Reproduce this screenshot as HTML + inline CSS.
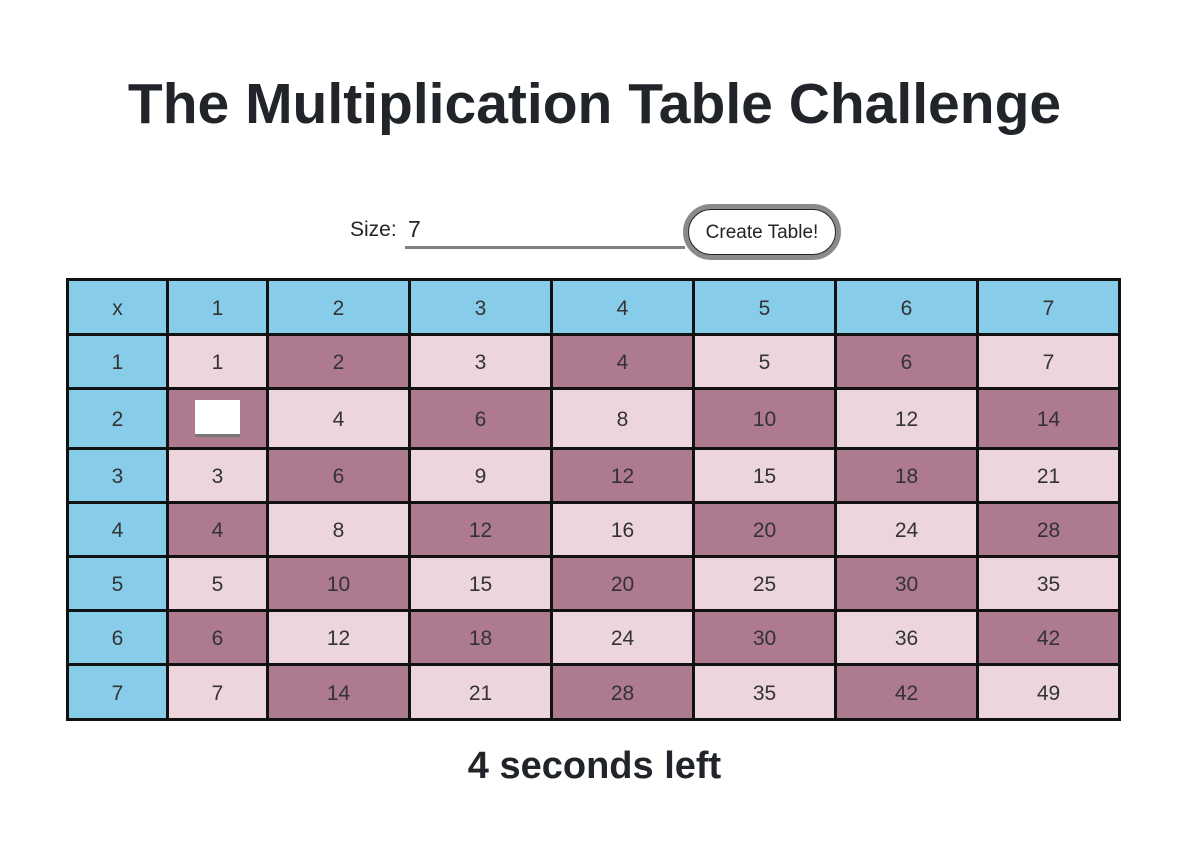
<!DOCTYPE html>
<html><head><meta charset="utf-8"><style>
body{margin:0;width:1189px;height:847px;background:#fff;font-family:"Liberation Sans",sans-serif;color:#212529;position:relative;overflow:hidden}
h1{position:absolute;left:0;width:1189px;top:66px;margin:0;text-align:center;font-size:57px;font-weight:bold;line-height:76px}
.c{position:absolute;box-sizing:border-box;border:3px solid #111;display:flex;align-items:center;justify-content:center;font-size:21px;color:#333;padding-top:3px}
</style></head><body>
<h1>The Multiplication Table Challenge</h1>
<div style="position:absolute;left:350px;top:218px;font-size:21px">Size:</div>
<div style="position:absolute;left:405px;top:213px;width:277px;height:33px;border-bottom:3px solid #808080;font-size:23px;line-height:33px;padding-left:3px;box-sizing:content-box">7</div>
<div style="position:absolute;left:683px;top:204px;width:158px;height:56px;box-sizing:border-box;border:5px solid #8a8a8a;border-radius:28px;display:flex;align-items:center;justify-content:center"><div style="border:1px solid #222;border-radius:24px;width:100%;height:100%;box-sizing:border-box;display:flex;align-items:center;justify-content:center;font-size:19px;padding-top:2px">Create Table!</div></div>
<div id="grid"></div>
<div style="position:absolute;left:0;width:1189px;top:745px;text-align:center;font-size:38px;font-weight:bold">4 seconds left</div>
<script>
const size=7;
const xs=[67,167,267,409,551,693,835,977,1119];
const ys=[279,334,388,448,502,556,610,664,719];
const g=document.getElementById('grid');
for(let r=0;r<=size;r++)for(let c=0;c<=size;c++){
 const d=document.createElement('div');d.className='c';
 d.style.left=(xs[c]-1)+'px';d.style.top=(ys[r]-1)+'px';
 d.style.width=(xs[c+1]-xs[c]+3)+'px';d.style.height=(ys[r+1]-ys[r]+3)+'px';
 let bg,t;
 if(r==0||c==0){bg='#87cce9';t=r==0&&c==0?'x':(r==0?c:r);}
 else{bg=((r+c)%2==0)?'#ecd5dc':'#ad7a90';t=r*c;}
 d.style.background=bg;
 if(r==2&&c==1){
  
  
  d.style.paddingTop='0';
  const i=document.createElement('div');
  i.style.cssText='width:45px;height:37px;background:#fff;border-bottom:3px solid #777;box-sizing:border-box';
  d.appendChild(i);
 } else {
  d.textContent=t;
  
  
 }
 g.appendChild(d);
}
</script>
</body></html>
